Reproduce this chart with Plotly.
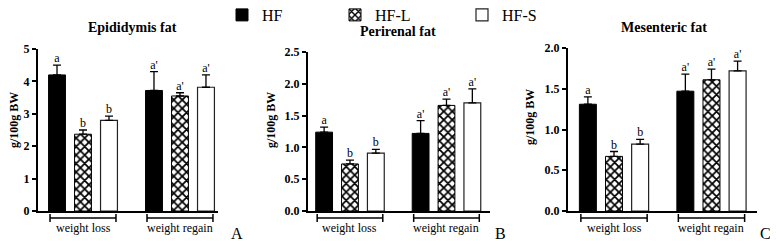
import plotly.graph_objects as go

# ---------------- data ----------------
groups = ["weight loss", "weight regain"]
series = ["HF", "HF-L", "HF-S"]
panel_titles = ["Epididymis fat", "Perirenal fat", "Mesenteric fat"]
panel_tags = ["A", "B", "C"]
y_label = "g/100g BW"

# Epididymis fat
epi_hf = [4.20, 3.72]
epi_hf_sem = [0.30, 0.58]
epi_hfl = [2.37, 3.55]
epi_hfl_sem = [0.13, 0.10]
epi_hfs = [2.80, 3.82]
epi_hfs_sem = [0.13, 0.38]

# Perirenal fat
per_hf = [1.24, 1.22]
per_hf_sem = [0.08, 0.20]
per_hfl = [0.74, 1.66]
per_hfl_sem = [0.06, 0.10]
per_hfs = [0.91, 1.70]
per_hfs_sem = [0.06, 0.22]

# Mesenteric fat
mes_hf = [1.31, 1.47]
mes_hf_sem = [0.09, 0.21]
mes_hfl = [0.67, 1.61]
mes_hfl_sem = [0.06, 0.13]
mes_hfs = [0.82, 1.72]
mes_hfs_sem = [0.06, 0.12]

letters_hf = ["a", "a'"]
letters_hfl = ["b", "a'"]
letters_hfs = ["b", "a'"]

y_max = [5, 2.5, 2.0]
y_dtick = [1, 0.5, 0.5]
y_fmt = ["d", ".1f", ".1f"]

# ---------------- layout helpers ----------------
OFF = 8  # page body margin
W, H = 778 - OFF, 245 - OFF
SERIF = "Liberation Serif"

def px(xp):
    return (xp - OFF) / W

def py(yp):
    return 1 - (yp - OFF) / H

x_domains = [(38, 218), (308, 490), (568, 757)]
y_tops = [49, 52, 48]
y_bottom = 211
x_ranges = [(-0.464, 1.392), (-0.435, 1.451), (-0.472, 1.467)]
title_pos = [(132, 28), (398, 31), (664, 28)]
ylab_pos = [(14, 120), (271, 120), (530, 117)]
tag_pos = [(237, 233), (500, 233), (765, 233)]

panel_data = [
    [(epi_hf, epi_hf_sem), (epi_hfl, epi_hfl_sem), (epi_hfs, epi_hfs_sem)],
    [(per_hf, per_hf_sem), (per_hfl, per_hfl_sem), (per_hfs, per_hfs_sem)],
    [(mes_hf, mes_hf_sem), (mes_hfl, mes_hfl_sem), (mes_hfs, mes_hfs_sem)],
]
letters = [letters_hf, letters_hfl, letters_hfs]

markers = [
    dict(color="black", line=dict(color="black", width=1)),
    dict(color="white",
         pattern=dict(shape="x", fgcolor="black", bgcolor="white", size=6, solidity=0.5, fillmode="replace"),
         line=dict(color="black", width=1)),
    dict(color="white", line=dict(color="#222", width=1.2)),
]
legend_names = ["legend", "legend2", "legend3"]

fig = go.Figure()

for p in range(3):
    xa = "x" if p == 0 else f"x{p+1}"
    ya = "y" if p == 0 else f"y{p+1}"
    for s in range(3):
        vals, sem = panel_data[p][s]
        fig.add_trace(go.Bar(
            x=groups, y=vals, name=series[s],
            xaxis=xa, yaxis=ya,
            offsetgroup=series[s],
            marker=markers[s],
            error_y=dict(type="data", array=sem, arrayminus=[0] * len(sem), symmetric=False,
                         color="black", thickness=1.3, width=4),
            showlegend=(p == 0),
            legend=legend_names[s],
        ))
        tops = [v + e for v, e in zip(vals, sem)]
        fig.add_trace(go.Scatter(
            x=groups, y=tops, mode="text", text=letters[s],
            textposition="top center",
            textfont=dict(family=SERIF, size=12, color="black"),
            xaxis=xa, yaxis=ya, offsetgroup=series[s],
            showlegend=False, hoverinfo="skip", cliponaxis=False,
        ))

layout = dict(
    width=W, height=H,
    margin=dict(l=0, r=0, t=0, b=0, pad=0, autoexpand=False),
    paper_bgcolor="white", plot_bgcolor="white",
    barmode="group", bargap=0.196, bargroupgap=0.35,
    scattermode="group", scattergap=0.196,
    font=dict(family=SERIF, color="black"),
)

for p in range(3):
    xk = "xaxis" if p == 0 else f"xaxis{p+1}"
    yk = "yaxis" if p == 0 else f"yaxis{p+1}"
    ya = "y" if p == 0 else f"y{p+1}"
    xa = "x" if p == 0 else f"x{p+1}"
    layout[xk] = dict(
        domain=[px(x_domains[p][0]), px(x_domains[p][1])],
        anchor=ya, type="category", range=list(x_ranges[p]),
        showline=True, linewidth=2, linecolor="black",
        showticklabels=False, ticks="", showgrid=False, zeroline=False,
        fixedrange=True, automargin=False,
    )
    layout[yk] = dict(
        domain=[py(y_bottom), py(y_tops[p])],
        anchor=xa, range=[0, y_max[p]], dtick=y_dtick[p], tick0=0,
        tickformat=y_fmt[p],
        showline=True, linewidth=2, linecolor="black",
        ticks="outside", ticklen=4, tickwidth=2, tickcolor="black",
        tickfont=dict(family=SERIF, size=12, color="black", weight="bold"),
        showgrid=False, zeroline=False, fixedrange=True, automargin=False,
    )

legend_x = [222, 335, 462]
for i, ln in enumerate(legend_names):
    layout[ln] = dict(
        x=px(legend_x[i]), xanchor="left", y=py(15), yanchor="middle",
        orientation="h", bgcolor="rgba(0,0,0,0)",
        font=dict(family=SERIF, size=16, color="black"),
    )

fig.update_layout(**layout)

# titles, labels, tags
for p in range(3):
    fig.add_annotation(text="<b>" + panel_titles[p] + "</b>", xref="paper", yref="paper",
                       x=px(title_pos[p][0]), y=py(title_pos[p][1]), showarrow=False,
                       font=dict(family=SERIF, size=14, color="black"), xanchor="center", yanchor="middle")
    fig.add_annotation(text="<b>" + y_label + "</b>", xref="paper", yref="paper",
                       x=px(ylab_pos[p][0]), y=py(ylab_pos[p][1]), showarrow=False, textangle=-90,
                       font=dict(family=SERIF, size=12, color="black"), xanchor="center", yanchor="middle")
    fig.add_annotation(text=panel_tags[p], xref="paper", yref="paper",
                       x=px(tag_pos[p][0]), y=py(tag_pos[p][1]), showarrow=False,
                       font=dict(family=SERIF, size=16, color="black"), xanchor="center", yanchor="middle")
    xa = "x" if p == 0 else f"x{p+1}"
    half = 0.34
    for gi, g in enumerate(groups):
        x0, x1 = gi - half, gi + half
        yb = py(218)
        fig.add_shape(type="line", xref=xa, yref="paper", x0=x0, x1=x1, y0=yb, y1=yb,
                      line=dict(color="black", width=1.5))
        for xe in (x0, x1):
            fig.add_shape(type="line", xref=xa, yref="paper", x0=xe, x1=xe, y0=py(214), y1=py(222),
                          line=dict(color="black", width=1.5))
        fig.add_annotation(text=g, xref=xa, yref="paper", x=gi, y=py(228), showarrow=False,
                           font=dict(family=SERIF, size=12, color="black"),
                           xanchor="center", yanchor="middle")

fig.write_html("out.html")
